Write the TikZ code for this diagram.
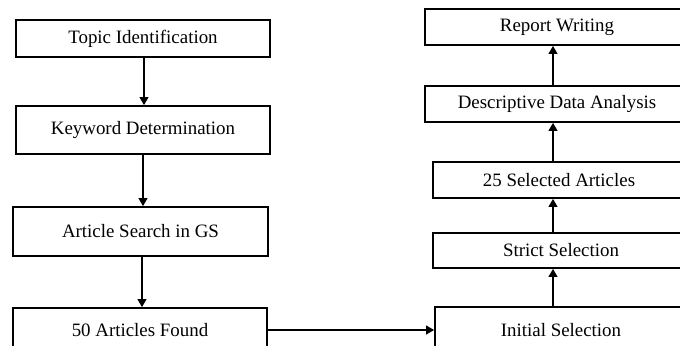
\documentclass[tikz,border=0pt]{standalone}
\usepackage{fontspec}
\setmainfont{Liberation Serif}
\usetikzlibrary{arrows.meta}
\begin{document}
\begin{tikzpicture}[x=1bp,y=-1bp,
  box/.style={draw=black,line width=1.6bp,fill=white,inner sep=0pt,
    font=\fontsize{18.9bp}{22bp}\selectfont},
  arr/.style={line width=2.6bp,-{Triangle[length=8bp,width=8.5bp]}}]
\useasboundingbox (0,0) rectangle (680,345);
\clip (0,0) rectangle (680,345);
% left column
\node[box,minimum width=254bp,minimum height=37bp] (topic) at (143,38.5) {Topic Identification};
\node[box,minimum width=254bp,minimum height=48bp] (keyword) at (143,130) {Keyword Determination};
\node[box,minimum width=255bp,minimum height=49bp] (search) at (140.5,231.5) {Article Search in GS};
\node[box,minimum width=254bp,minimum height=44bp] (found) at (140,330) {50 Articles Found};
% right column
\node[box,minimum width=264bp,minimum height=36bp] (report) at (557,27) {Report Writing};
\node[box,minimum width=264bp,minimum height=36bp] (descr) at (557,104) {Descriptive Data Analysis};
\node[box,minimum width=252bp,minimum height=36bp] (selected) at (559,180) {25 Selected Articles};
\node[box,minimum width=256bp,minimum height=35bp] (strict) at (561,250.5) {Strict Selection};
\node[box,minimum width=252bp,minimum height=46bp] (initial) at (561,330) {Initial Selection};
% guide coordinates
\coordinate (l1) at (144,0);
\coordinate (l2) at (143,0);
\coordinate (l3) at (142,0);
\coordinate (r1) at (553,0);
% connectors
\draw[arr] (topic.south -| l1) -- (keyword.north -| l1);
\draw[arr] (keyword.south -| l2) -- (search.north -| l2);
\draw[arr] (search.south -| l3) -- (found.north -| l3);
\draw[arr] (found.east) -- (initial.west);
\draw[arr] (initial.north -| r1) -- (strict.south -| r1);
\draw[arr] (strict.north -| r1) -- (selected.south -| r1);
\draw[arr] (selected.north -| r1) -- (descr.south -| r1);
\draw[arr] (descr.north -| r1) -- (report.south -| r1);
\end{tikzpicture}
\end{document}
